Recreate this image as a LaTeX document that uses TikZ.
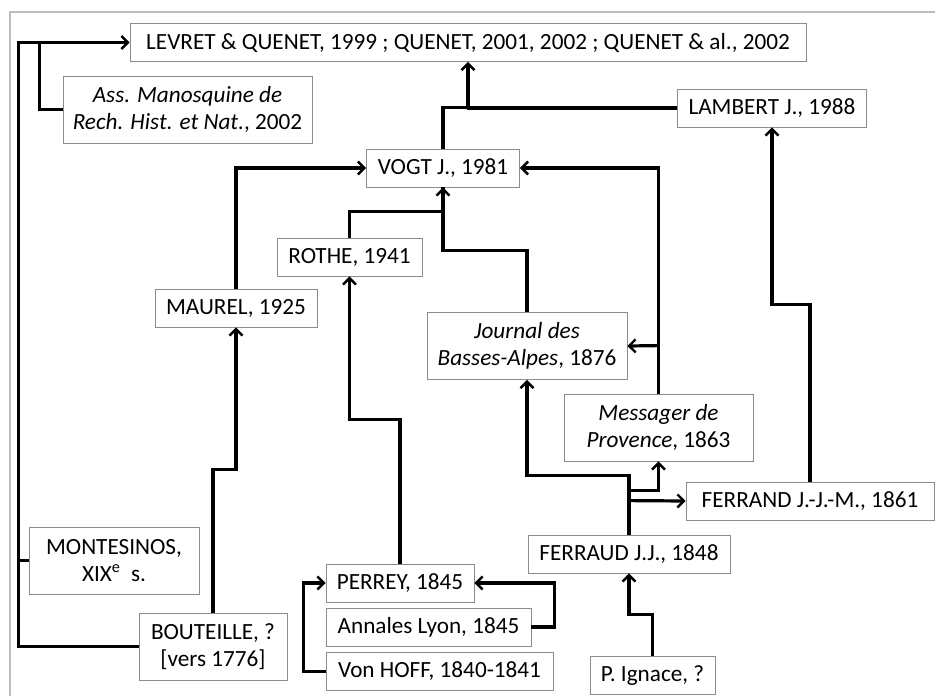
\documentclass[tikz,border=0pt]{standalone}
\usepackage{fontspec}
\setmainfont{Carlito}
\usetikzlibrary{arrows.meta}
\definecolor{frame}{HTML}{BDBDBD}
\definecolor{boxline}{HTML}{8C8C8C}

\begin{document}
\begin{tikzpicture}[x=1pt,y=-1pt,
  >={Straight Barb[length=6.5pt,width=13pt,line width=2.4pt]},
  src/.style={draw=boxline,line width=0.8pt,fill=white,inner sep=1pt,
    minimum height=38,align=center,font=\fontsize{23.2}{27}\selectfont},
  two/.style={src,minimum height=67},
  link/.style={line width=3.2pt,line join=miter}]
 \useasboundingbox (0,0) rectangle (935,696);
 \draw[frame,line width=1.2pt] (935,12) -- (10,12) -- (10,696);

 \node[src,minimum width=676] (levret) at (468,42.5)
   {LEVRET \& QUENET, 1999 ; QUENET, 2001, 2002 ; QUENET \& al., 2002};
 \node[two,minimum width=249] (ass) at (187.5,109.5)
   {\textit{Ass. Manosquine de}\\\textit{Rech. Hist. et Nat.}, 2002};
 \node[src,minimum width=189] (lambert) at (772,108) {LAMBERT J., 1988};
 \node[src,minimum width=153] (vogt) at (443,168) {VOGT J., 1981};
 \node[src,minimum width=145] (rothe) at (349.5,257) {ROTHE, 1941};
 \node[src,minimum width=162] (maurel) at (236,308) {MAUREL, 1925};
 \node[two,minimum width=200] (journal) at (527,346)
   {\textit{Journal des}\\\textit{Basses-Alpes}, 1876};
 \node[two,minimum width=189] (mess) at (658.5,427.5)
   {\textit{Messager de}\\\textit{Provence}, 1863};
 \node[src,minimum width=248] (ferrand) at (810,501) {FERRAND J.-J.-M., 1861};
 \node[src,minimum width=202] (ferraud) at (629,554) {FERRAUD J.J., 1848};
 \node[two,minimum width=170] (mont) at (114,560.5)
   {MONTESINOS,\\XIX\textsuperscript{e}~~s.};
 \node[two,minimum width=148] (bout) at (213,646.5)
   {BOUTEILLE, ?\\{}[vers 1776]};
 \node[src,minimum width=148] (perrey) at (400,583) {PERREY, 1845};
 \node[src,minimum width=205] (annales) at (428.5,627) {Annales Lyon, 1845};
 \node[src,minimum width=227] (hoff) at (439.5,671.5) {Von HOFF, 1840-1841};
 \node[src,minimum width=125] (ignace) at (652.5,675.5) {P. Ignace, ?};

 \draw[link,->] (bout.west) -- ++(-120,0) |- (levret.west);
 \draw[link] (ass.west) -- ++(-23,0) -- ++(0,-67);
 \draw[link] (mont.west) -- ++(-10,0);
 \draw[link,->] (bout.north) -- ++(0,-143) -| (maurel.south);
 \draw[link,->] (maurel.north) |- (vogt.west);
 \draw[link] (rothe.north) -- ++(0,-26) -| (vogt.south);
 \draw[link,->] (journal.north) -- ++(0,-62) -| (vogt.south);
 \draw[link,->] (vogt.north) -- ++(0,-41) -| (levret.south);
 \draw[link] (lambert.west) -- ++(-210,0);
 \draw[link,->] (mess.north) |- (vogt.east);
 \draw[link,->] (mess.north) ++(0,-48) -- (journal.east);
 \draw[link,->] (ferrand.north) -- ++(0,-177) -| (lambert.south);
 \draw[link,->] (ferraud.north) -- ++(0,-59) -| (journal.south);
 \draw[link,->] (ferraud.north) ++(0,-44) -| (mess.south);
 \draw[link,->] (ferraud.north) ++(0,-34) -- (ferrand.west);
 \draw[link,->] (ignace.north) -- ++(0,-42) -| (ferraud.south);
 \draw[link,->] (perrey.north) -- ++(0,-144) -| (rothe.south);
 \draw[link,->] (annales.east) -- ++(23,0) |- (perrey.east);
 \draw[link,->] (hoff.west) -- ++(-22,0) |- (perrey.west);
\end{tikzpicture}
\end{document}
